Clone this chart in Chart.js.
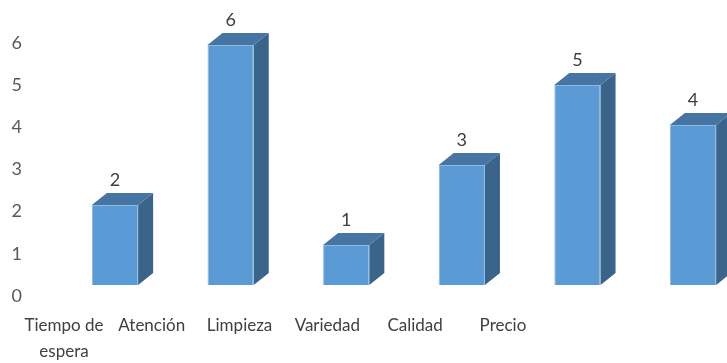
<!DOCTYPE html>
<html>
<head>
<meta charset="utf-8">
<script src="https://cdn.jsdelivr.net/npm/chart.js@4.4.1/dist/chart.umd.min.js"></script>
<style>
	body { margin: 0; background: #ffffff; }
	canvas { display: block; }
</style>
</head>
<body>
<canvas id="chart" width="727" height="363"></canvas>
<script>
// categories and values
const categories = [['Tiempo de', 'espera'], 'Atención', 'Limpieza', 'Variedad', 'Calidad', 'Precio'];
const values = [2, 6, 1, 3, 5, 4];
const yTickValues = [0, 1, 2, 3, 4, 5, 6];

const frontColor = '#5b9bd5';
const topColor = '#4674a3';
const sideColor = '#3a6489';
const depthX = 15;
const depthY = 12;

// draws the top and right faces of each bar and the value above it
const bar3d = {
	id: 'bar3d',
	afterDatasetsDraw(chart) {
		const ctx = chart.ctx;
		const meta = chart.getDatasetMeta(0);
		ctx.save();
		meta.data.forEach((bar, i) => {
			const p = bar.getProps(['x', 'y', 'base', 'width'], true);
			const left = p.x - p.width / 2;
			const right = p.x + p.width / 2;

			ctx.fillStyle = sideColor;
			ctx.beginPath();
			ctx.moveTo(right, p.base);
			ctx.lineTo(right + depthX, p.base - depthY);
			ctx.lineTo(right + depthX, p.y - depthY);
			ctx.lineTo(right, p.y);
			ctx.closePath();
			ctx.fill();

			ctx.fillStyle = topColor;
			ctx.beginPath();
			ctx.moveTo(left, p.y);
			ctx.lineTo(right, p.y);
			ctx.lineTo(right + depthX, p.y - depthY);
			ctx.lineTo(left + depthX, p.y - depthY);
			ctx.closePath();
			ctx.fill();

			ctx.fillStyle = '#404040';
			ctx.font = '18px Lato';
			ctx.textAlign = 'center';
			ctx.textBaseline = 'middle';
			ctx.fillText(String(values[i]), p.x, p.y - 25);
		});
		ctx.restore();
	}
};

let data = {
	datasets: [{
		label: 'Serie',
		data: values.map((v, i) => ({ x: i, y: v })),
		backgroundColor: frontColor,
		borderColor: '#8cb8e2',
		borderWidth: 1,
		barPercentage: 0.4,
		categoryPercentage: 1,
		xAxisID: 'x',
		yAxisID: 'yb'
	}]
};

let config = {
	type: 'bar',
	data: data,
	options: {
		responsive: false,
		animation: false,
		layout: {
			padding: { top: 43, right: 0, left: 0, bottom: 0 }
		},
		scales: {
			x: {
				type: 'linear',
				display: false,
				offset: false,
				min: -0.649,
				max: 5.294,
				afterBuildTicks: (scale) => {
					scale.ticks = values.map((v, i) => ({ value: i }));
				}
			},
			yb: {
				type: 'linear',
				display: false,
				min: -0.275,
				max: 6.05
			},
			y: {
				type: 'linear',
				position: 'left',
				min: 0,
				max: 6,
				afterBuildTicks: (scale) => {
					scale.ticks = yTickValues.map(v => ({ value: v }));
				},
				afterFit: (scale) => {
					scale.width = 40;
				},
				grid: { display: false, drawTicks: false },
				border: { display: false },
				ticks: {
					padding: 18,
					color: '#595959',
					font: { family: 'Lato', size: 18 }
				}
			},
			xl: {
				type: 'linear',
				position: 'bottom',
				offset: false,
				min: -0.273,
				max: 7.552,
				afterBuildTicks: (scale) => {
					scale.ticks = categories.map((c, i) => ({ value: i }));
				},
				afterFit: (scale) => {
					scale.height = 67;
				},
				grid: { display: false, drawTicks: false, offset: false },
				border: { display: false },
				ticks: {
					autoSkip: false,
					maxRotation: 0,
					minRotation: 0,
					padding: 16,
					color: '#404040',
					font: { family: 'Lato', size: 17, lineHeight: 1.55 },
					callback: (value) => categories[value]
				}
			}
		},
		plugins: {
			legend: { display: false },
			tooltip: { enabled: false }
		}
	},
	plugins: [bar3d]
};

let chart = new Chart(document.getElementById('chart').getContext('2d'), config);
</script>
</body>
</html>
